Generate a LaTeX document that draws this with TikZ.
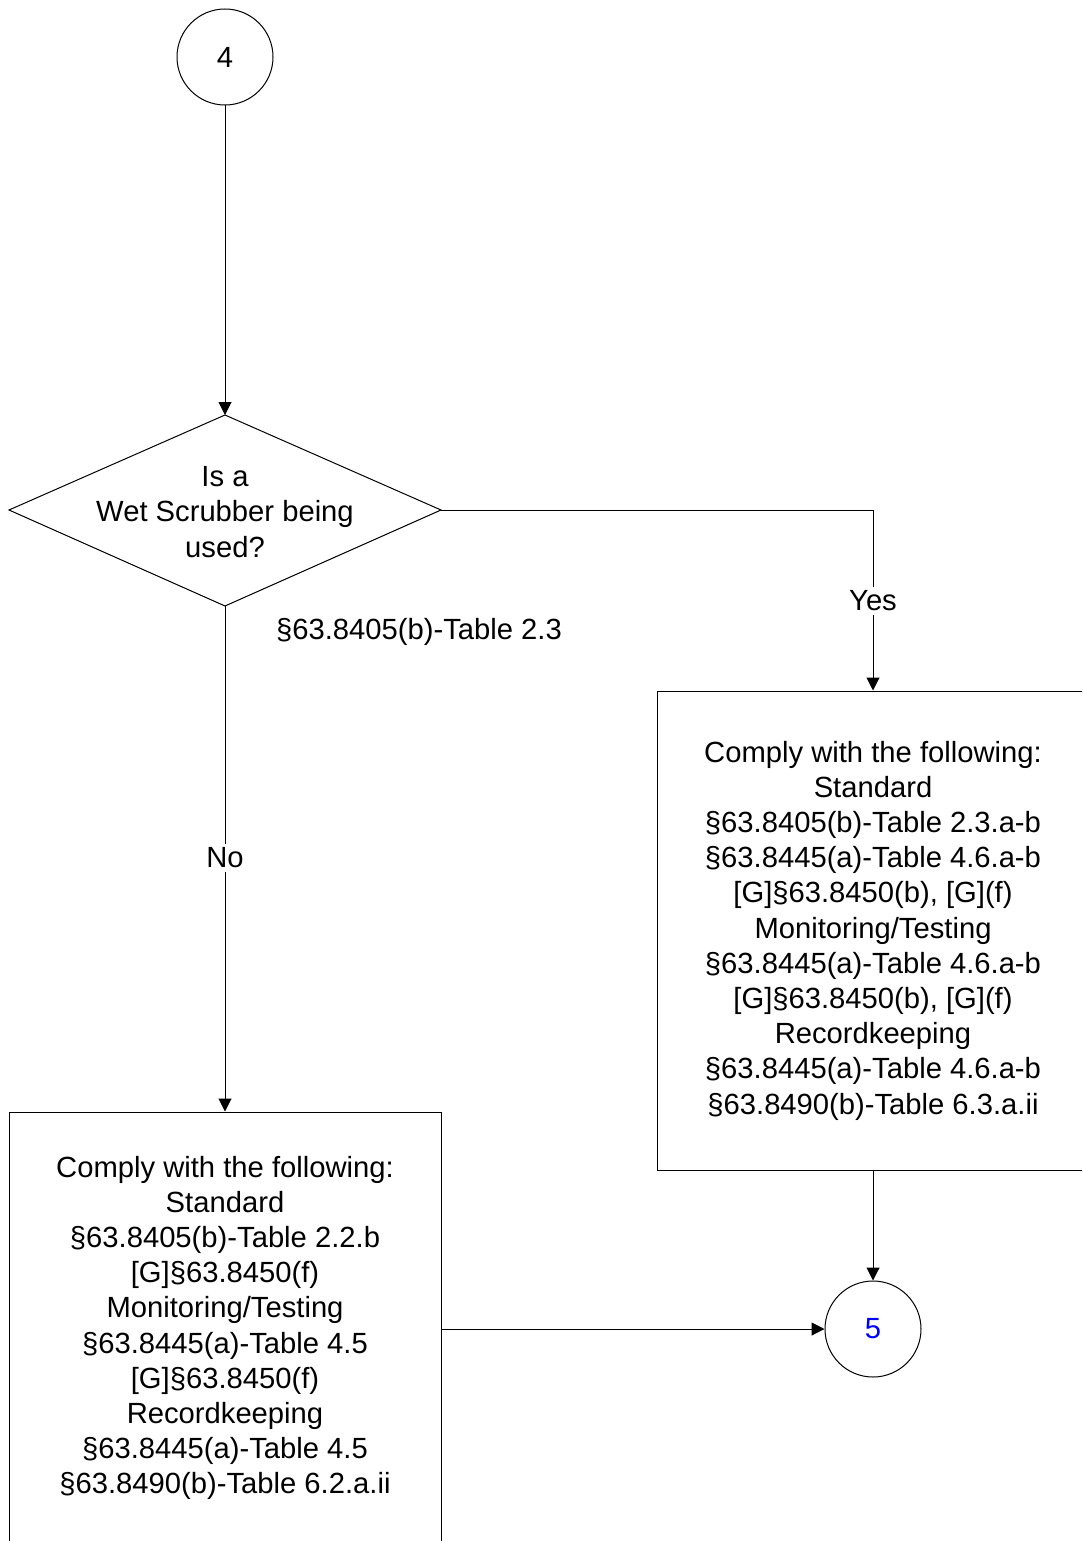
\documentclass[tikz,border=0pt]{standalone}
\usepackage{fontspec}
\setmainfont{Liberation Sans}
\usetikzlibrary{arrows.meta}

\begin{document}
\begin{tikzpicture}[x=0.5pt,y=-0.5pt,line width=0.5pt,>={Triangle[length=6.5pt,width=6.5pt]}]
        %
        % `offpage' is used for the numbered connectors.
        % `action' is used for the "comply" boxes.
        % `answer' is used for the labels sitting on the lines.
        \tikzstyle{offpage} = [draw,shape=circle,minimum size=48pt,inner sep=0pt]
        \tikzstyle{action} = [draw,fill=white,minimum width=216pt,align=center,inner sep=0pt]
        \tikzstyle{answer} = [fill=white,inner sep=2pt]
        \fontsize{14.6}{17.6}\selectfont
        %
        % Page frame
        \useasboundingbox (0,0) rectangle (1082,1541);
        \clip (0,0) rectangle (1082,1541);
        %
        % Top connector
        \node[offpage] (c4) at (225,57) {4};
        %
        % Decision
        \coordinate (dtop) at (225,415);
        \coordinate (dright) at (441,510);
        \coordinate (dbottom) at (225,606);
        \coordinate (dleft) at (9,510);
        \draw (dtop) -- (dright) -- (dbottom) -- (dleft) -- cycle;
        \node[align=center] (q1) at (225,512) {Is a\\Wet Scrubber being\\used?};
        \draw[->] (c4) -- (dtop);
        \node (ref1) at (419,632) {§63.8405(b)-Table 2.3};
        %
        % Yes branch
        \node[action,minimum height=239.5pt] (yesbox) at (873,930.5)
        {Comply with the following:\\Standard\\§63.8405(b)-Table 2.3.a-b\\
        §63.8445(a)-Table 4.6.a-b\\{}[G]§63.8450(b), [G](f)\\Monitoring/Testing\\
        §63.8445(a)-Table 4.6.a-b\\{}[G]§63.8450(b), [G](f)\\Recordkeeping\\
        §63.8445(a)-Table 4.6.a-b\\§63.8490(b)-Table 6.3.a.ii};
        \draw[->] (dright) -| (yesbox.north);
        \node[answer] (yes) at (873,601) {Yes};
        %
        % No branch
        \node[action,minimum height=216pt] (nobox) at (225,1328)
        {Comply with the following:\\Standard\\§63.8405(b)-Table 2.2.b\\
        {}[G]§63.8450(f)\\Monitoring/Testing\\§63.8445(a)-Table 4.5\\
        {}[G]§63.8450(f)\\Recordkeeping\\§63.8445(a)-Table 4.5\\
        §63.8490(b)-Table 6.2.a.ii};
        \draw[->] (dbottom) -- (nobox.north);
        \node[answer] (no) at (225,858) {No};
        %
        % Bottom connector
        \node[offpage,text=blue] (c5) at (873,1329) {5};
        \draw[->] (yesbox.south) -- (c5);
        \draw[->] (nobox.east |- c5) -- (c5);
        %
\end{tikzpicture}
\end{document}
